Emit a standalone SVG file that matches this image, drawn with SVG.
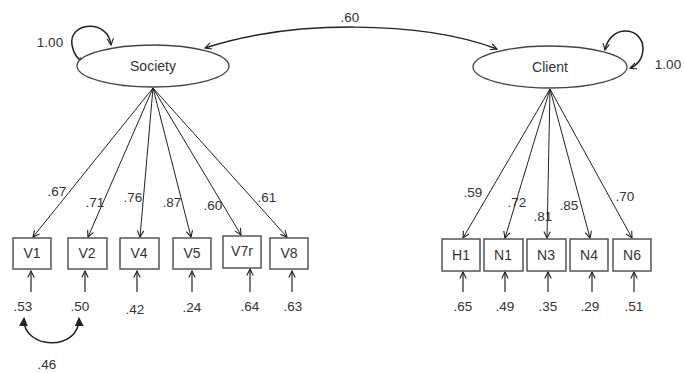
<svg xmlns="http://www.w3.org/2000/svg" width="684" height="373" viewBox="0 0 684 373">
<defs>
<style>
text{font-family:"Liberation Sans","Open Sans",sans-serif;font-size:13.5px;fill:#333;text-anchor:middle}
.nm{font-size:14px}
.box{fill:#fff;stroke:#555;stroke-width:1.5}
.ell{fill:#fff;stroke:#444;stroke-width:1.3}
.ln{fill:none;stroke:#222;stroke-width:1}
.err{fill:none;stroke:#444;stroke-width:1.4}
.cov{fill:none;stroke:#222;stroke-width:1.5}
</style>
<marker id="open" viewBox="0 0 10 10" refX="9" refY="5" markerWidth="8" markerHeight="8" orient="auto-start-reverse" markerUnits="userSpaceOnUse">
<path d="M1,1 L9,5 L1,9" fill="none" stroke="#222" stroke-width="1.4"/>
</marker>
<marker id="fill" viewBox="0 0 10 10" refX="9" refY="5" markerWidth="9" markerHeight="9" orient="auto-start-reverse" markerUnits="userSpaceOnUse">
<path d="M0,0 L10,5 L0,10 z" fill="#222"/>
</marker>
</defs>
<rect width="684" height="373" fill="#fff"/>

<g id="connectors">
<path class="ln" marker-end="url(#open)" d="M153,88 L33,237"/>
<path class="ln" marker-end="url(#open)" d="M153,88 L88,237"/>
<path class="ln" marker-end="url(#open)" d="M153,88 L140,237"/>
<path class="ln" marker-end="url(#open)" d="M153,88 L191,237"/>
<path class="ln" marker-end="url(#open)" d="M153,88 L241,235"/>
<path class="ln" marker-end="url(#open)" d="M153,88 L287,237"/>
<path class="ln" marker-end="url(#open)" d="M550,89 L463,238"/>
<path class="ln" marker-end="url(#open)" d="M550,89 L505,238"/>
<path class="ln" marker-end="url(#open)" d="M550,89 L547,238"/>
<path class="ln" marker-end="url(#open)" d="M550,89 L590,238"/>
<path class="ln" marker-end="url(#open)" d="M550,89 L632,238"/>
<path class="err" marker-end="url(#open)" d="M31,292 L31,271"/>
<path class="err" marker-end="url(#open)" d="M85,292 L85,271"/>
<path class="err" marker-end="url(#open)" d="M137,292 L137,271"/>
<path class="err" marker-end="url(#open)" d="M192,292 L192,271"/>
<path class="err" marker-end="url(#open)" d="M250,292 L250,269"/>
<path class="err" marker-end="url(#open)" d="M292,292 L292,271"/>
<path class="err" marker-end="url(#open)" d="M463,292 L463,272"/>
<path class="err" marker-end="url(#open)" d="M505,292 L505,272"/>
<path class="err" marker-end="url(#open)" d="M548,292 L548,272"/>
<path class="err" marker-end="url(#open)" d="M592,292 L592,272"/>
<path class="err" marker-end="url(#open)" d="M634,292 L634,272"/>
<path class="cov" marker-start="url(#fill)" marker-end="url(#fill)" d="M24,318 C22,350 80,352 79,318"/>
<path class="cov" marker-start="url(#open)" marker-end="url(#open)" d="M205,48 C290,20 420,20 497,49"/>
<path class="cov" marker-start="url(#open)" marker-end="url(#open)" d="M111,45 C108,18 68,22 72,45 C74,56 80,61 85,63"/>
<path class="cov" marker-start="url(#open)" marker-end="url(#open)" d="M605,50 C610,24 642,26 643,48 C643,60 636,66 630,68"/>
</g>

<g id="Society"><ellipse class="ell" cx="153" cy="66" rx="76" ry="21"/><text class="nm" x="153" y="71">Society</text></g>
<g id="Client"><ellipse class="ell" cx="550" cy="67" rx="77" ry="21"/><text class="nm" x="550" y="72">Client</text></g>

<g id="V1"><rect class="box" x="13" y="238" width="38" height="31"/><text class="nm" x="32" y="258">V1</text></g>
<g id="V2"><rect class="box" x="68" y="238" width="39" height="31"/><text class="nm" x="87" y="258">V2</text></g>
<g id="V4"><rect class="box" x="120" y="238" width="39" height="31"/><text class="nm" x="139" y="258">V4</text></g>
<g id="V5"><rect class="box" x="173" y="238" width="38" height="31"/><text class="nm" x="192" y="258">V5</text></g>
<g id="V7r"><rect class="box" x="223" y="236" width="38" height="32"/><text class="nm" x="242" y="256">V7r</text></g>
<g id="V8"><rect class="box" x="270" y="238" width="38" height="31"/><text class="nm" x="289" y="258">V8</text></g>

<g id="H1"><rect class="box" x="442" y="239" width="38" height="32"/><text class="nm" x="461" y="260">H1</text></g>
<g id="N1"><rect class="box" x="484" y="239" width="39" height="32"/><text class="nm" x="503" y="260">N1</text></g>
<g id="N3"><rect class="box" x="527" y="239" width="39" height="32"/><text class="nm" x="546" y="260">N3</text></g>
<g id="N4"><rect class="box" x="570" y="239" width="38" height="32"/><text class="nm" x="589" y="260">N4</text></g>
<g id="N6"><rect class="box" x="613" y="239" width="38" height="32"/><text class="nm" x="632" y="260">N6</text></g>

<g id="labels">
<text x="350" y="22">.60</text>
<text x="50" y="47">1.00</text>
<text x="668" y="69">1.00</text>
<text x="57" y="196">.67</text>
<text x="95" y="207">.71</text>
<text x="133" y="202">.76</text>
<text x="172" y="207">.87</text>
<text x="213" y="210">.60</text>
<text x="267" y="202">.61</text>
<text x="473" y="197">.59</text>
<text x="517" y="207">.72</text>
<text x="543" y="221">.81</text>
<text x="569" y="210">.85</text>
<text x="625" y="201">.70</text>
<text x="23" y="311">.53</text>
<text x="80" y="311">.50</text>
<text x="135" y="314">.42</text>
<text x="192" y="312">.24</text>
<text x="250" y="311">.64</text>
<text x="293" y="311">.63</text>
<text x="463" y="311">.65</text>
<text x="505" y="311">.49</text>
<text x="548" y="311">.35</text>
<text x="590" y="311">.29</text>
<text x="634" y="311">.51</text>
<text x="47" y="369">.46</text>
</g>
</svg>
